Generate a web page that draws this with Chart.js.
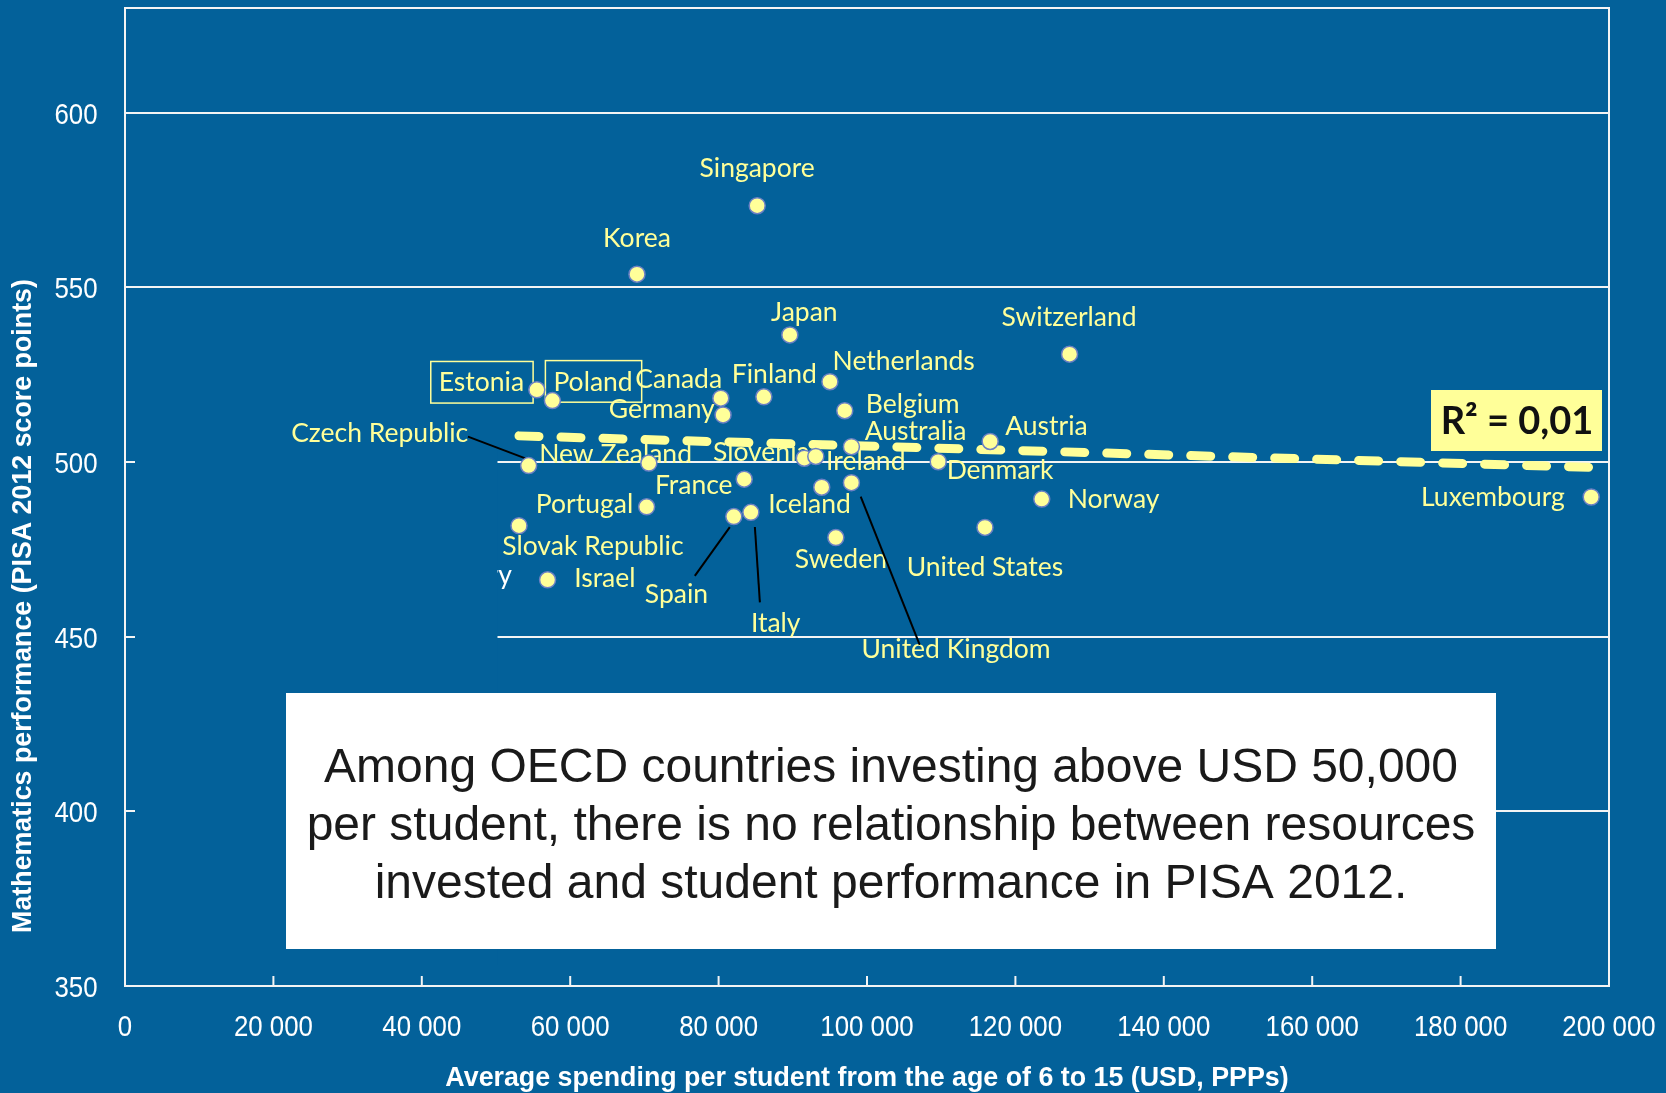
<!DOCTYPE html>
<html>
<head>
<meta charset="utf-8">
<title>PISA 2012 - spending vs mathematics</title>
<script src="https://cdn.jsdelivr.net/npm/chart.js@4.4.1/dist/chart.umd.min.js"></script>
<style>
  html, body { margin: 0; padding: 0; background: #03619a; }
  #wrap { width: 1666px; height: 1093px; }
</style>
</head>
<body>
<div id="wrap"><canvas id="pisaChart" width="1666" height="1093"></canvas></div>
<script>
// Data (spending in USD PPP, maths score points)
const countries = ['Singapore', 'Korea', 'Japan', 'Switzerland', 'Netherlands', 'Estonia', 'Poland',
  'Canada', 'Finland', 'Germany', 'Belgium', 'Australia', 'Austria', 'Czech Republic', 'New Zealand',
  'Slovenia', 'Ireland', 'Denmark', 'France', 'Iceland', 'United Kingdom', 'Norway', 'Luxembourg',
  'Portugal', 'Slovak Republic', 'Spain', 'Italy', 'Sweden', 'United States', 'Israel'];
const spending = [85200, 69000, 89600, 127300, 95000, 55500, 57600,
  80300, 86100, 80600, 97000, 97900, 116600, 54400, 70600,
  91550, 93100, 109600, 83450, 93900, 97900, 123550, 197600,
  70300, 53100, 82050, 84350, 95800, 115900, 56950];
const mathScore = [573.4, 553.8, 536.4, 530.9, 523.0, 520.7, 517.6,
  518.3, 518.7, 513.5, 514.7, 504.4, 505.9, 499.0, 499.7,
  501.1, 501.6, 500.1, 495.1, 492.8, 494.1, 489.4, 490.0,
  487.2, 481.8, 484.4, 485.6, 478.4, 481.3, 466.3];

// linear trend (R² = 0,01)
const trendX = [53100, 197600];
const trendY = [507.5, 498.5];

const xTicks = [0, 20000, 40000, 60000, 80000, 100000, 120000, 140000, 160000, 180000, 200000];
const yTicks = [350, 400, 450, 500, 550, 600];

const BLUE = '#03619a';
const PALE = '#ffff99';
const LINE = '#f4f4f4';
const labelFont = '26.5px Lato, "Open Sans", sans-serif';
const tickFont = '30px "Liberation Sans", Arial, sans-serif';

// where each name sits, in px from its point: [dx, baseline dy, align]
const labelPlace = {
  'Singapore': [0, -28.4, 'center'],
  'Korea': [0, -27.3, 'center'],
  'Japan': [14.5, -14.3, 'center'],
  'Switzerland': [-0.5, -28, 'center'],
  'Netherlands': [2.7, -11.7, 'left'],
  'Estonia': [-12.7, 1.7, 'right'],
  'Poland': [1, -10, 'left'],
  'Canada': [1.3, -10, 'right'],
  'Finland': [10.5, -13.4, 'center'],
  'Germany': [-8.3, 3.3, 'right'],
  'Belgium': [21, 2, 'left'],
  'Australia': [13.3, -6.7, 'left'],
  'Austria': [15, -6.7, 'left'],
  'Czech Republic': [-60.4, -23.7, 'right'],
  'New Zealand': [-109.7, -0.6, 'left'],
  'Slovenia': [-91.3, 2.4, 'left'],
  'Ireland': [10.3, 14, 'left'],
  'Denmark': [8.4, 17.6, 'left'],
  'France': [-11.6, 15, 'right'],
  'Iceland': [-53.4, 25.4, 'left'],
  'United Kingdom': [10, 175.3, 'left'],
  'Norway': [26, 9, 'left'],
  'Luxembourg': [-26.4, 9.4, 'right'],
  'Portugal': [-13.4, 6.3, 'right'],
  'Slovak Republic': [-16.7, 29, 'left'],
  'Spain': [-89, 86.6, 'left'],
  'Italy': [0, 119.6, 'left'],
  'Sweden': [5, 30, 'center'],
  'United States': [0, 48.7, 'center'],
  'Israel': [26.6, 7.7, 'left']
};
const boxed = ['Estonia', 'Poland'];
// leader lines, px from the point: [country, x1, y1, x2, y2]
const leaders = [
  ['Czech Republic', -60.7, -29, -1.3, -6.4],
  ['Spain', -39, 59.3, -4, 10.6],
  ['Italy', 4, 14.6, 9, 90],
  ['United Kingdom', 9.3, 14, 68.3, 162.3]
];

function spaced(v) {
  return String(v).replace(/\B(?=(\d{3})+(?!\d))/g, ' ');
}

// narrow tick text (Arial Narrow look)
function narrowText(ctx, text, x, y, align) {
  ctx.save();
  ctx.translate(x, y);
  ctx.scale(0.86, 1);
  ctx.textAlign = align;
  ctx.fillText(text, 0, 0);
  ctx.restore();
}

const decor = {
  id: 'decor',
  beforeDatasetsDraw(chart) {
    const { ctx, chartArea: a, scales: { x, y } } = chart;
    ctx.save();
    // half-hidden label left over from the source slide
    ctx.font = labelFont;
    ctx.fillStyle = '#ffffff';
    ctx.textAlign = 'right';
    ctx.textBaseline = 'alphabetic';
    ctx.fillText('Hungary', 512, 584);

    // blue patch that masks the low-spending part of the grid
    ctx.fillStyle = BLUE;
    ctx.fillRect(a.left + 10, 445, 497.5 - a.left - 10, 520);

    // country names
    ctx.font = labelFont;
    ctx.fillStyle = PALE;
    countries.forEach((c, i) => {
      const p = labelPlace[c];
      if (!p) return;
      const px = x.getPixelForValue(spending[i]);
      const py = y.getPixelForValue(mathScore[i]);
      ctx.textAlign = p[2];
      ctx.fillText(c, px + p[0], py + p[1]);
      if (boxed.includes(c)) {
        const w = ctx.measureText(c).width;
        let left = px + p[0];
        if (p[2] === 'right') left -= w;
        if (p[2] === 'center') left -= w / 2;
        ctx.strokeStyle = PALE;
        ctx.lineWidth = 1.5;
        ctx.strokeRect(left - 8, py + p[1] - 30, w + 17, 41.6);
      }
    });

    // leader lines
    ctx.strokeStyle = '#000000';
    ctx.lineWidth = 2;
    leaders.forEach(([c, x1, y1, x2, y2]) => {
      const i = countries.indexOf(c);
      const px = x.getPixelForValue(spending[i]);
      const py = y.getPixelForValue(mathScore[i]);
      ctx.beginPath();
      ctx.moveTo(px + x1, py + y1);
      ctx.lineTo(px + x2, py + y2);
      ctx.stroke();
    });
    ctx.restore();
  },
  afterDraw(chart) {
    const { ctx, chartArea: a, scales: { x, y } } = chart;
    ctx.save();
    // top and right frame
    ctx.strokeStyle = LINE;
    ctx.lineWidth = 2;
    ctx.beginPath();
    ctx.moveTo(a.left, a.top);
    ctx.lineTo(a.right, a.top);
    ctx.lineTo(a.right, a.bottom);
    ctx.stroke();
    // inward ticks on the x axis
    xTicks.slice(1, -1).forEach(v => {
      const px = x.getPixelForValue(v);
      ctx.beginPath();
      ctx.moveTo(px, a.bottom);
      ctx.lineTo(px, a.bottom - 10);
      ctx.stroke();
    });

    // tick labels
    ctx.fillStyle = '#ffffff';
    ctx.font = tickFont;
    ctx.textBaseline = 'alphabetic';
    yTicks.forEach(v => narrowText(ctx, String(v), 97.5, y.getPixelForValue(v) + 11, 'right'));
    xTicks.forEach(v => narrowText(ctx, spaced(v), x.getPixelForValue(v), 1036, 'center'));

    // message box
    ctx.fillStyle = '#ffffff';
    ctx.fillRect(286, 693, 1210, 256);
    ctx.fillStyle = '#1a1a1a';
    ctx.font = '48px "Liberation Sans", Arial, sans-serif';
    ctx.textAlign = 'center';
    ctx.fillText('Among OECD countries investing above USD 50,000', 891, 781.7);
    ctx.fillText('per student, there is no relationship between resources', 891, 840);
    ctx.fillText('invested and student performance in PISA 2012.', 891, 898.3);

    // R² box
    ctx.fillStyle = PALE;
    ctx.fillRect(1431, 390, 171, 61);
    ctx.fillStyle = '#111111';
    ctx.font = 'bold 38px Lato, "Open Sans", sans-serif';
    ctx.fillText('R² = 0,01', 1517, 434);

    // axis titles
    ctx.fillStyle = '#ffffff';
    ctx.font = 'bold 26.8px "Liberation Sans", Arial, sans-serif';
    ctx.textBaseline = 'middle';
    ctx.fillText('Average spending per student from the age of 6 to 15 (USD, PPPs)', (a.left + a.right) / 2, 1079);
    ctx.translate(24, 606);
    ctx.rotate(-Math.PI / 2);
    ctx.fillText('Mathematics performance (PISA 2012 score points)', 0, 0);
    ctx.restore();
  }
};

document.addEventListener('DOMContentLoaded', function () {
  const ctx = document.getElementById('pisaChart').getContext('2d');
  const chart = new Chart(ctx, {
    type: 'scatter',
    data: {
      datasets: [{
        label: 'OECD countries',
        data: countries.map((c, i) => ({ x: spending[i], y: mathScore[i] })),
        pointRadius: 8,
        pointBackgroundColor: PALE,
        pointBorderColor: '#6c80c4',
        pointBorderWidth: 1.5,
        showLine: false
      }, {
        label: 'Trend',
        type: 'line',
        data: trendX.map((v, i) => ({ x: v, y: trendY[i] })),
        borderColor: PALE,
        borderWidth: 9,
        borderDash: [20, 22],
        borderCapStyle: 'round',
        pointRadius: 0,
        fill: false
      }]
    },
    options: {
      responsive: false,
      animation: false,
      layout: { autoPadding: false, padding: { top: 8, right: 57, left: 0, bottom: 0 } },
      plugins: {
        legend: { display: false },
        tooltip: { enabled: false }
      },
      scales: {
        x: {
          type: 'linear',
          min: 0,
          max: 200000,
          afterFit: s => { s.height = 107; },
          afterBuildTicks: s => { s.ticks = xTicks.map(v => ({ value: v })); },
          grid: { drawOnChartArea: false, drawTicks: false },
          border: { display: true, color: LINE, width: 2 },
          ticks: { display: false }
        },
        y: {
          type: 'linear',
          min: 350,
          max: 630,
          afterFit: s => { s.width = 125; },
          afterBuildTicks: s => { s.ticks = yTicks.map(v => ({ value: v })); },
          grid: { color: LINE, lineWidth: 2, drawTicks: false },
          border: { display: true, color: LINE, width: 2 },
          ticks: { display: false }
        }
      }
    },
    plugins: [decor]
  });
});
</script>
</body>
</html>
